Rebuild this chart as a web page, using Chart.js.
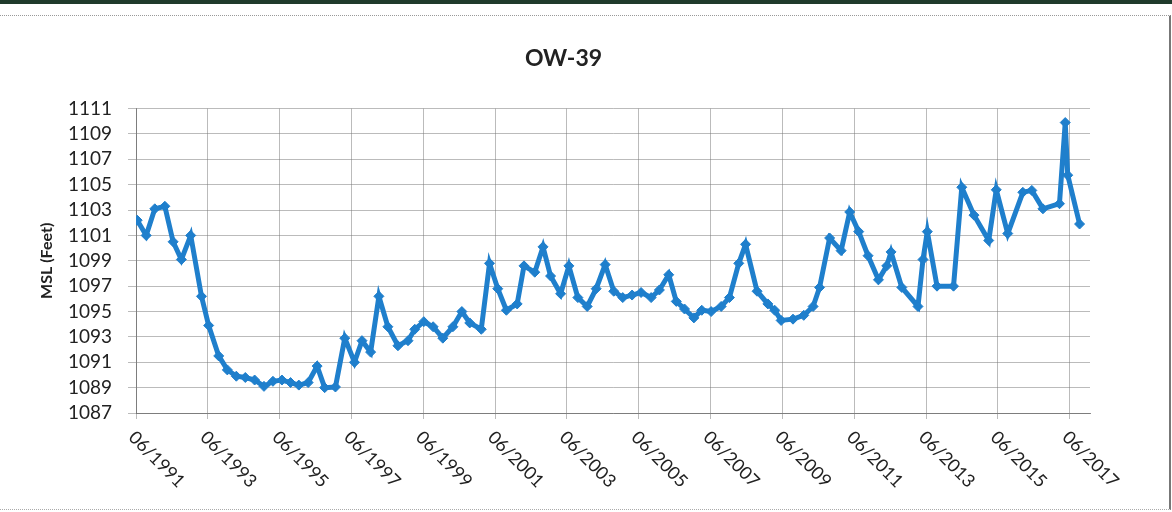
<!DOCTYPE html>
<html>
<head>
<meta charset="utf-8">
<script src="https://cdn.jsdelivr.net/npm/chart.js@4"></script>
<style>
    html, body { margin: 0; padding: 0; background: #fff; }
    body { width: 1172px; height: 512px; position: relative; overflow: hidden; }
    #topbar { position: absolute; left: 0; top: 0; width: 1172px; height: 4px; background: #1f3a2b; }
    #frame { position: absolute; left: -2px; top: 15px; width: 1171px; height: 493px;
             border-top: 1px dotted #999; border-right: 2px solid #777; border-bottom: 1px dotted #aaa; }
    #wrap { position: absolute; left: 0; top: 0; width: 1172px; height: 512px; }
</style>
</head>
<body>
<div id="topbar"></div>
<div id="frame"></div>
<div id="wrap"><canvas id="myChart" width="1172" height="512"></canvas></div>
<script>
// water level readings, decimal year vs feet above MSL
const years = [
    1991.45, 1991.70, 1991.94, 1992.22, 1992.45, 1992.68, 1992.94, 1993.24, 1993.44, 1993.72,
    1993.96, 1994.21, 1994.46, 1994.72, 1994.98, 1995.23, 1995.48, 1995.72, 1995.95, 1996.21,
    1996.46, 1996.67, 1996.97, 1997.23, 1997.50, 1997.71, 1997.95, 1998.18, 1998.43, 1998.71,
    1998.99, 1999.18, 1999.43, 1999.69, 1999.96, 2000.24, 2000.49, 2000.71, 2001.03, 2001.26,
    2001.49, 2001.73, 2002.03, 2002.22, 2002.52, 2002.75, 2002.96, 2003.24, 2003.47, 2003.72,
    2003.98, 2004.23, 2004.48, 2004.72, 2004.97, 2005.23, 2005.48, 2005.76, 2005.99, 2006.25,
    2006.46, 2006.69, 2006.95, 2007.17, 2007.43, 2007.71, 2007.94, 2008.20, 2008.39, 2008.71,
    2009.01, 2009.20, 2009.38, 2009.71, 2010.01, 2010.27, 2010.45, 2010.73, 2011.05, 2011.29,
    2011.54, 2011.80, 2012.09, 2012.32, 2012.44, 2012.74, 2013.19, 2013.33, 2013.45, 2013.72,
    2014.18, 2014.41, 2014.75, 2015.16, 2015.37, 2015.69, 2016.11, 2016.36, 2016.67, 2017.13,
    2017.29, 2017.36, 2017.69
];
const levels = [
    1102.2, 1101.0, 1103.1, 1103.3, 1100.5, 1099.1, 1101.0, 1096.2, 1093.9, 1091.5,
    1090.4, 1089.9, 1089.8, 1089.6, 1089.1, 1089.5, 1089.6, 1089.4, 1089.2, 1089.4,
    1090.7, 1089.0, 1089.05, 1092.9, 1091.0, 1092.7, 1091.8, 1096.2, 1093.8, 1092.3,
    1092.7, 1093.6, 1094.2, 1093.8, 1092.9, 1093.8, 1095.0, 1094.1, 1093.6, 1098.8,
    1096.8, 1095.1, 1095.6, 1098.6, 1098.1, 1100.1, 1097.8, 1096.4, 1098.6, 1096.1,
    1095.4, 1096.8, 1098.7, 1096.6, 1096.1, 1096.3, 1096.5, 1096.1, 1096.7, 1097.9,
    1095.8, 1095.2, 1094.5, 1095.1, 1095.0, 1095.4, 1096.1, 1098.8, 1100.3, 1096.6,
    1095.6, 1095.1, 1094.3, 1094.4, 1094.7, 1095.4, 1096.9, 1100.8, 1099.8, 1102.85,
    1101.3, 1099.4, 1097.5, 1098.6, 1099.7, 1096.9, 1095.4, 1099.1, 1101.3, 1097.0,
    1097.0, 1104.8, 1102.6, 1100.6, 1104.6, 1101.15, 1104.4, 1104.55, 1103.1, 1103.5,
    1109.9, 1105.75, 1101.9
];
const xTickLabels = [
    '06/1991', '06/1993', '06/1995', '06/1997', '06/1999', '06/2001', '06/2003',
    '06/2005', '06/2007', '06/2009', '06/2011', '06/2013', '06/2015', '06/2017'
];
const yMin = 1087;
const yMax = 1111;

const FONT = 'Lato, "Liberation Sans", sans-serif';

// "06/1991" -> 1991 + 5/12
function labelToYear(lbl) {
    const parts = lbl.split('/');
    return Number(parts[1]) + (Number(parts[0]) - 1) / 12;
}
const xTickValues = xTickLabels.map(labelToYear);

const points = years.map((y, i) => ({ x: y, y: levels[i] }));

// x labels turned clockwise, text running down to the right from each tick
const slantLabels = {
    id: 'slantLabels',
    afterDraw(chart) {
        const ctx = chart.ctx;
        const xs = chart.scales.x;
        const base = chart.chartArea.bottom;
        ctx.save();
        ctx.font = '18px ' + FONT;
        ctx.fillStyle = '#222';
        ctx.textAlign = 'left';
        ctx.textBaseline = 'top';
        xTickValues.forEach((v, i) => {
            const px = xs.getPixelForValue(v);
            ctx.save();
            ctx.translate(px + 2, base + 15);
            ctx.rotate(Math.PI / 4);
            ctx.fillText(xTickLabels[i], 0, 0);
            ctx.restore();
        });
        ctx.restore();
    }
};

const ctx = document.getElementById('myChart').getContext('2d');

var myChart = new Chart(ctx, { // eslint-disable-line
    type: 'line',
    data: {
        datasets: [
            {
                label: 'OW-39',
                data: points,
                borderColor: '#1f7fcc',
                backgroundColor: '#1f7fcc',
                borderWidth: 5,
                pointStyle: 'rectRot',
                pointRadius: 5,
                pointBorderWidth: 1,
                tension: 0
            }
        ]
    },
    plugins: [slantLabels],
    options: {
        responsive: false,
        animation: false,
        layout: {
            padding: { left: 37, right: 82, top: 0, bottom: 0 }
        },
        plugins: {
            legend: { display: false },
            tooltip: { enabled: false },
            title: {
                display: true,
                text: 'OW-39',
                color: '#222',
                font: { family: FONT, size: 23, weight: 'bold' },
                padding: { top: 45, bottom: 36 }
            }
        },
        scales: {
            x: {
                type: 'linear',
                min: xTickValues[0],
                max: 2017.98,
                afterBuildTicks(scale) {
                    scale.ticks = xTickValues.map(v => ({ value: v }));
                },
                afterFit(scale) {
                    scale.height = 99;
                },
                grid: {
                    color: 'rgba(120,120,120,0.5)',
                    lineWidth: 1,
                    tickLength: 6,
                    drawTicks: true
                },
                border: { color: 'rgba(110,110,110,0.8)' },
                ticks: { display: false }
            },
            y: {
                min: yMin,
                max: yMax,
                afterFit(scale) {
                    scale.width = 99;
                },
                ticks: {
                    stepSize: 2,
                    autoSkip: false,
                    color: '#222',
                    padding: 16,
                    font: { family: FONT, size: 19 },
                    callback: v => String(v)
                },
                grid: {
                    color: 'rgba(120,120,120,0.5)',
                    lineWidth: 1,
                    tickLength: 8
                },
                border: { color: 'rgba(110,110,110,0.8)' },
                title: {
                    display: true,
                    text: 'MSL (Feet)',
                    color: '#222',
                    font: { family: FONT, size: 16, weight: 'bold' },
                    padding: { top: 0, bottom: 0 }
                }
            }
        }
    }
});
</script>
</body>
</html>
